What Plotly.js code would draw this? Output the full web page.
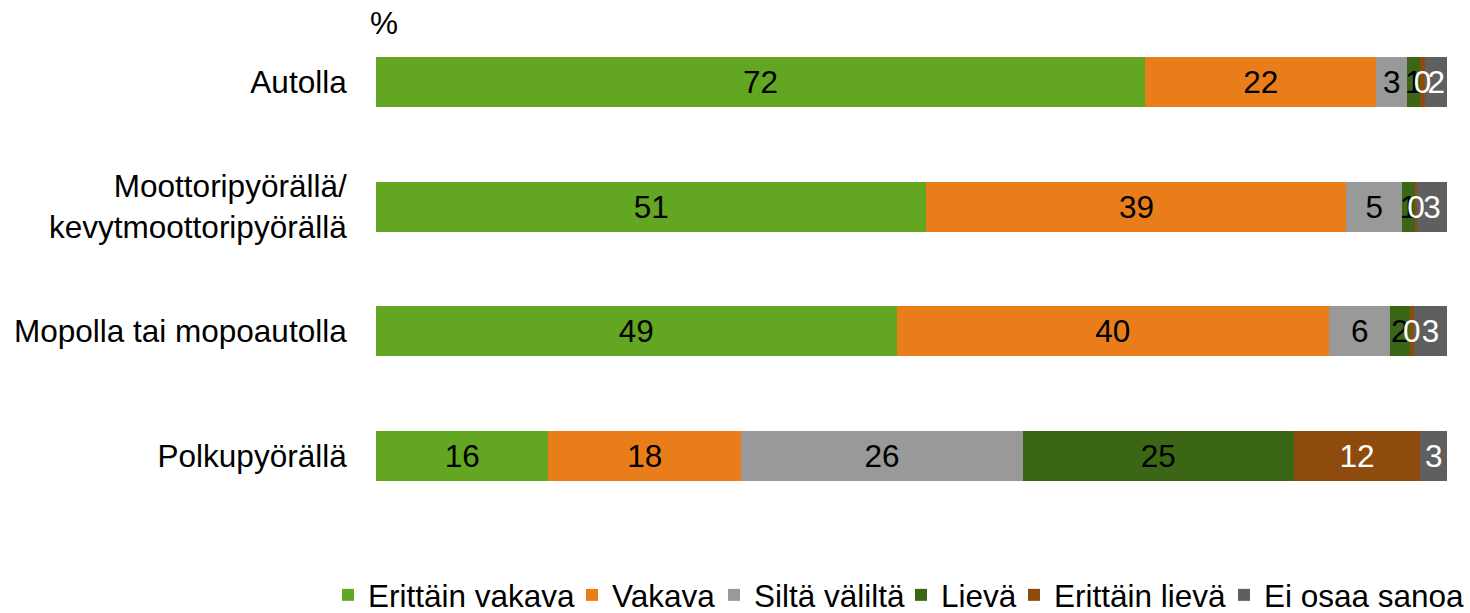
<!DOCTYPE html>
<html>
<head>
<meta charset="utf-8">
<script src="https://cdn.plot.ly/plotly-3.0.1.min.js"></script>
<style>
  html, body { margin: 0; padding: 0; background: #fff; }
  #chart { width: 1470px; height: 613px; }
</style>
</head>
<body>
<div id="chart"></div>
<script>
// kategoriat (ylhäältä alas)
const categories = ['Autolla', 'Moottoripyörällä/<br>kevytmoottoripyörällä', 'Mopolla tai mopoautolla', 'Polkupyörällä'];

// sarjat, % (luettu kuvasta)
const erittainVakava = [71.8, 51.4, 48.6, 16.1];
const vakava         = [21.6, 39.2, 40.4, 18.0];
const siltaValilta   = [2.9, 5.2, 5.7, 26.3];
const lieva          = [1.2, 1.2, 1.8, 25.3];
const erittainLieva  = [0.45, 0.2, 0.4, 11.8];
const eiOsaaSanoa    = [2.1, 2.8, 3.1, 2.52];

const seriesNames = ['Erittäin vakava', 'Vakava', 'Siltä väliltä', 'Lievä', 'Erittäin lievä', 'Ei osaa sanoa'];
const seriesValues = [erittainVakava, vakava, siltaValilta, lieva, erittainLieva, eiOsaaSanoa];
const colors = ['#63A621', '#E97D19', '#999999', '#3B6615', '#8F4A0E', '#5F5F5F'];
const textColors = ['#000', '#000', '#000', '#000', '#fff', '#fff'];

const FONT = 'Liberation Sans, Arial, sans-serif';
const FS = 31.5;

// selitteen tekstien alkukohdat (px vasemmasta reunasta)
const legendTextX = [368, 612, 754, 941, 1054, 1264];

// palkit
const bars = seriesNames.map((name, i) => ({
    type: 'bar',
    orientation: 'h',
    name: name,
    y: categories,
    x: seriesValues[i],
    marker: { color: colors[i], line: { width: 0 } },
    textposition: 'none',
    legend: i === 0 ? 'legend' : 'legend' + (i + 1),
    hoverinfo: 'skip'
}));

// arvotekstit omalla päällekkäisellä akselilla, jotta ne piirtyvät palkkien päälle
const labels = seriesNames.map((name, i) => ({
    type: 'bar',
    orientation: 'h',
    name: name,
    y: categories,
    x: seriesValues[i],
    yaxis: 'y2',
    marker: { color: 'rgba(0,0,0,0)', line: { width: 0 } },
    texttemplate: '%{x:.0f}',
    textposition: 'inside',
    insidetextanchor: 'middle',
    textangle: 0,
    textfont: { family: FONT, size: FS, color: textColors[i] },
    showlegend: false,
    hoverinfo: 'skip'
}));

const layout = {
    width: 1470,
    height: 613,
    barmode: 'stack',
    bargap: 0.6,
    margin: { l: 376, r: 23, t: 20, b: 95, autoexpand: false },
    paper_bgcolor: '#fff',
    plot_bgcolor: '#fff',
    font: { family: FONT, size: FS, color: '#000' },
    uniformtext: { mode: 'show', minsize: FS },
    showlegend: true,
    xaxis: {
        range: [0, 100],
        showgrid: false,
        zeroline: false,
        showticklabels: false,
        showline: false,
        fixedrange: true
    },
    yaxis: {
        autorange: 'reversed',
        showgrid: false,
        zeroline: false,
        showline: false,
        ticks: 'outside',
        ticklen: 22,
        tickcolor: 'rgba(0,0,0,0)',
        tickfont: { family: FONT, size: FS, color: '#000' },
        fixedrange: true
    },
    yaxis2: {
        overlaying: 'y',
        matches: 'y',
        showgrid: false,
        zeroline: false,
        showline: false,
        showticklabels: false,
        ticks: '',
        fixedrange: true
    },
    annotations: [{
        text: '%',
        xref: 'paper', yref: 'paper',
        x: 0, y: 1,
        xanchor: 'left', yanchor: 'middle',
        xshift: -8, yshift: -3,
        showarrow: false,
        font: { family: FONT, size: FS, color: '#000' }
    }]
};

// yksi selite jokaiselle sarjalle, jotta ne asettuvat samalle riville
legendTextX.forEach((tx, i) => {
    const key = i === 0 ? 'legend' : 'legend' + (i + 1);
    layout[key] = {
        orientation: 'h',
        xref: 'container',
        yref: 'container',
        x: (tx - 40) / 1470,
        xanchor: 'left',
        y: 0.0736,
        yanchor: 'top',
        bgcolor: 'rgba(0,0,0,0)',
        borderwidth: 0,
        font: { family: FONT, size: FS, color: '#000' },
        itemwidth: 30
    };
});

Plotly.newPlot('chart', bars.concat(labels), layout, { displayModeBar: false, staticPlot: true });
</script>
</body>
</html>
